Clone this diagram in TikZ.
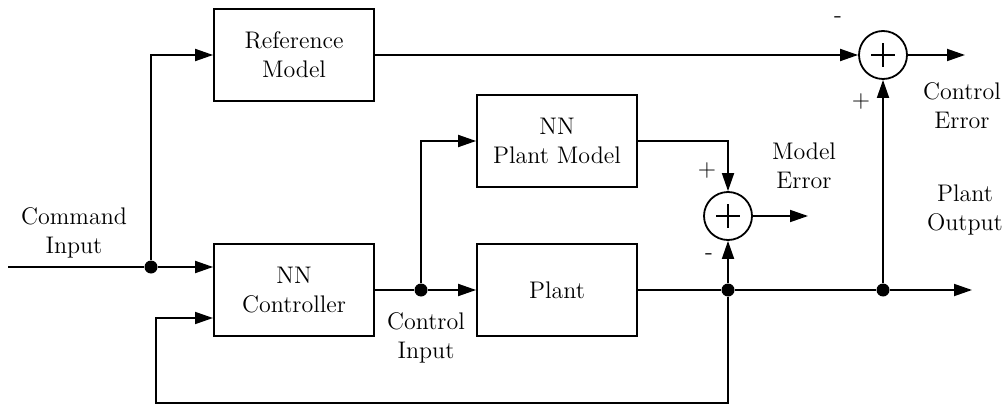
\documentclass[tikz,border=0pt]{standalone}
\usetikzlibrary{arrows.meta}
\tikzset{
  block/.style={draw, line width=0.9pt, minimum width=80pt, minimum height=46pt,
    align=center, font=\fontsize{12}{14.5}\selectfont},
  sumnode/.style={draw, circle, line width=0.9pt, minimum size=24pt, inner sep=0pt,
    path picture={\draw[line width=0.6pt] ([xshift=-6pt]path picture bounding box.center) -- ++(12pt,0)
      ([yshift=-6pt]path picture bounding box.center) -- ++(0,12pt);}},
  jdot/.style={circle, fill, inner sep=0pt, minimum size=6.5pt},
  sig/.style={-{Triangle[length=9pt,width=6pt]}},
  lbl/.style={align=center, font=\fontsize{12}{14.5}\selectfont},
}
\begin{document}
\begin{tikzpicture}[x=0.5pt, y=-0.5pt, line width=0.9pt]
  \useasboundingbox (0,0) rectangle (1004,406);
  % blocks
  \node[block] (refmodel) at (294,55) {Reference\\Model};
  \node[block] (ctrl) at (294,290) {NN\\Controller};
  \node[block] (plantmodel) at (557,141) {NN\\Plant Model};
  \node[block] (plant) at (557,290) {Plant};
  \node[sumnode] (sumM) at (728,216) {};
  \node[sumnode] (sumC) at (883,55) {};
  % junctions
  \node[jdot] (jin) at (151,267) {};
  \node[jdot] (ju) at (421,290) {};
  \node[jdot] (jy) at (728,290) {};
  \node[jdot] (jy2) at (883,290) {};
  \coordinate (cmd) at (8,267);
  \coordinate (yout) at (972,290);
  \coordinate (eC) at (965,55);
  \coordinate (eM) at (808,216);
  \coordinate (fb) at (156,403);
  \coordinate (fbin) at (213,318);
  % signals
  \draw (cmd) -- (jin);
  \draw[sig] (jin) -- (ctrl.west |- jin);
  \draw[sig] (jin) |- (refmodel.west);
  \draw[sig] (refmodel.east) -- (sumC.west);
  \draw (ctrl.east) -- (ju);
  \draw[sig] (ju) -- (plant.west);
  \draw[sig] (ju) |- (plantmodel.west);
  \draw[sig] (plantmodel.east) -| (sumM.north);
  \draw (plant.east) -- (jy) -- (jy2);
  \draw[sig] (jy2) -- (yout);
  \draw[sig] (jy) -- (sumM.south);
  \draw[sig] (jy2) -- (sumC.south);
  \draw[sig] (sumC.east) -- (eC);
  \draw[sig] (sumM.east) -- (eM);
  \draw[sig] (jy) |- (fb) |- (fbin);
  % labels
  \node[lbl] (lcmd) at (74,233) {Command\\Input};
  \node[lbl] (lu) at (426,338) {Control\\Input};
  \node[lbl] (lem) at (804,166) {Model\\Error};
  \node[lbl] (lec) at (962,106) {Control\\Error};
  \node[lbl] (ly) at (965,210) {Plant\\Output};
  \node[lbl] (sgn1) at (838,20) {-};
  \node[lbl] (sgn2) at (861,102) {+};
  \node[lbl] (sgn3) at (707,171) {+};
  \node[lbl] (sgn4) at (709,257) {-};
\end{tikzpicture}
\end{document}
